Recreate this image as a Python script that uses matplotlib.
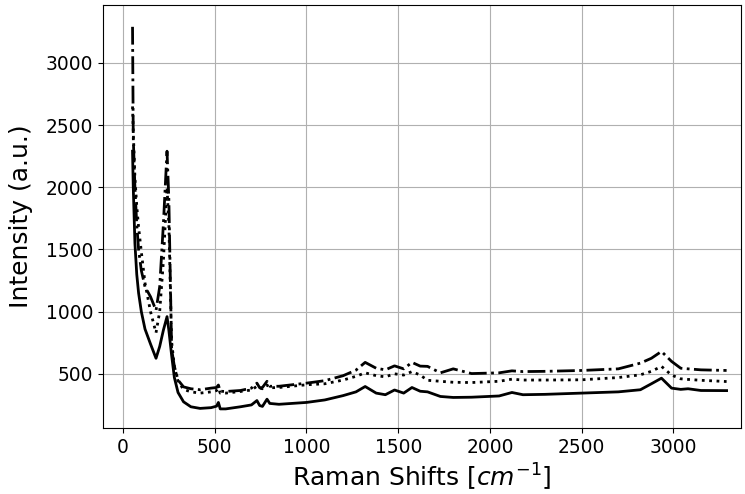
import numpy as np
import matplotlib
matplotlib.use("Agg")
import matplotlib.pyplot as plt

# Raman shift positions (cm^-1)
shift = [52, 56, 65, 75, 85, 100, 120, 150, 180, 200, 220, 240, 250, 265, 280,
         300, 330, 370, 420, 480, 510, 520, 530, 560, 640, 700, 730, 745, 760,
         785, 800, 850, 1000, 1100, 1200, 1270, 1320, 1380, 1430, 1480, 1530,
         1575, 1620, 1660, 1730, 1800, 1900, 2050, 2120, 2180, 2300, 2500, 2700,
         2820, 2880, 2935, 2990, 3040, 3080, 3150, 3290]

# spectrum 1 (solid)
spec_solid = [2290, 2000, 1550, 1300, 1150, 1000, 860, 740, 625, 720, 850, 960,
              850, 650, 470, 350, 275, 235, 222, 228, 240, 270, 218, 218, 235,
              250, 285, 245, 238, 296, 262, 255, 270, 290, 325, 355, 398, 345,
              332, 370, 345, 390, 360, 355, 318, 310, 312, 322, 350, 332, 335,
              345, 355, 372, 420, 465, 385, 375, 380, 366, 365]

# spectrum 2 (dotted)
spec_dot = [2650, 2450, 2080, 1850, 1680, 1480, 1230, 1000, 830, 1000, 1400,
            2000, 1700, 760, 560, 440, 375, 355, 345, 355, 365, 385, 345, 345,
            358, 370, 400, 385, 380, 410, 388, 390, 412, 420, 450, 480, 508,
            485, 476, 500, 490, 518, 490, 448, 440, 432, 430, 440, 457, 450,
            450, 452, 470, 492, 520, 560, 490, 460, 455, 448, 438]

# spectrum 3 (dash-dot)
spec_dashdot = [3290, 2400, 2000, 1700, 1500, 1330, 1200, 1120, 1010, 1200,
                1700, 2290, 1900, 700, 560, 450, 395, 380, 372, 385, 390, 410,
                360, 358, 366, 385, 425, 388, 390, 440, 400, 400, 425, 445, 485,
                530, 592, 545, 532, 564, 540, 592, 562, 560, 508, 540, 502, 508,
                524, 518, 520, 527, 540, 586, 625, 680, 600, 545, 540, 532, 527]

fig = plt.figure(figsize=(7.45, 4.94), dpi=100)
ax = fig.add_axes([0.138, 0.134, 0.857, 0.856])

ax.plot(shift, spec_solid, color='black', linestyle='-', linewidth=2)
ax.plot(shift, spec_dot, color='black', linestyle=':', linewidth=2)
ax.plot(shift, spec_dashdot, color='black', linestyle='-.', linewidth=2)

ax.set_xlim(-110, 3370)
ax.set_ylim(66, 3466)
ax.set_xticks([0, 500, 1000, 1500, 2000, 2500, 3000])
ax.set_yticks([500, 1000, 1500, 2000, 2500, 3000])
ax.tick_params(labelsize=13.4)
ax.set_xlabel("Raman Shifts [$cm^{-1}$]", fontsize=18)
ax.set_ylabel("Intensity (a.u.)", fontsize=18, labelpad=9)
ax.grid(True)

fig.savefig("out.png", dpi=100)
